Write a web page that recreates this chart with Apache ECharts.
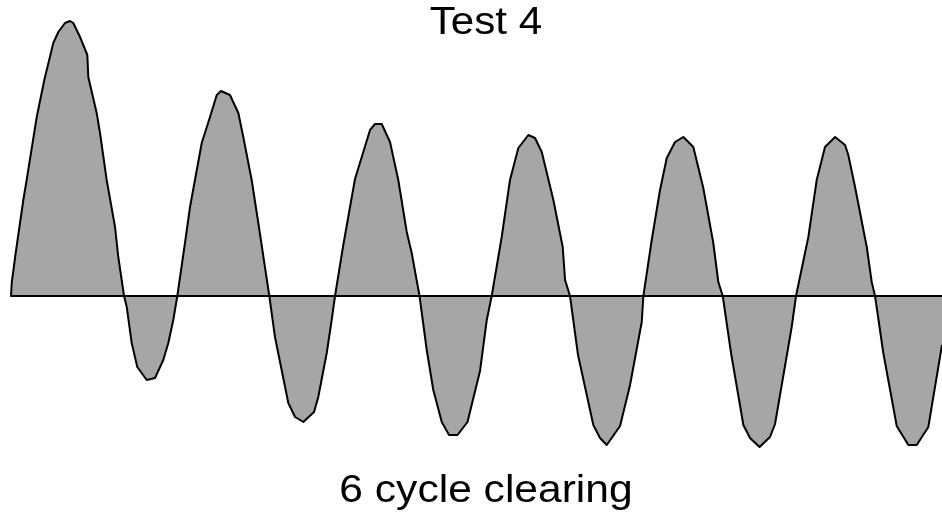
<!DOCTYPE html>
<html>
<head>
<meta charset="utf-8">
<style>
  html, body { margin: 0; padding: 0; background: #ffffff; }
  #chart { width: 942px; height: 517px; }
</style>
<script src="https://cdn.jsdelivr.net/npm/echarts@6/dist/echarts.min.js"></script>
</head>
<body>
<div id="chart"></div>
<script>
// Fault current trace: time (ms) and current (kA) samples
const timeMs = [
  0.00, 0.08, 0.52, 1.37, 1.74, 2.86, 3.70, 4.70, 5.26, 6.00, 6.56, 6.92, 7.67, 8.48, 8.59, 9.52, 9.89,
  10.63, 11.56, 11.92, 12.56, 12.86, 13.41, 14.03, 15.08, 16.00, 16.92, 17.48, 18.03, 18.48,
  19.33, 19.89, 20.44, 21.19, 22.11, 22.86, 23.33, 24.33, 25.26, 25.81, 26.74, 27.48, 28.70,
  29.33, 30.81, 31.56, 32.48, 33.67, 34.14, 35.08, 35.63, 36.00,
  36.92, 38.22, 38.97, 39.89, 40.44, 41.19, 42.11, 43.03, 43.97, 44.52, 45.39,
  46.19, 46.92, 47.86, 48.67, 49.61, 50.72, 52.11, 52.86, 53.41,
  54.52, 55.44, 56.37, 57.48, 58.22, 58.97, 60.26, 61.30, 61.56, 62.11,
  63.00, 64.70, 65.44, 66.19, 67.67, 68.78, 70.08, 70.26,
  71.19, 72.11, 72.86, 73.78, 74.70, 75.81, 76.92, 78.03, 78.59, 79.08,
  80.00, 81.37, 82.11, 83.17, 84.33, 84.89, 86.74, 87.22,
  88.59, 89.52, 90.44, 91.56, 92.67, 93.03, 93.78, 95.08, 95.63, 96.00,
  96.92, 98.41, 99.70, 100.63, 101.92, 103.44
];
const currentKA = [
  0.0, 1.3, 4.3, 9.6, 11.6, 17.9, 21.6, 25.3, 26.4, 27.3, 27.5, 27.3, 25.9, 24.1, 21.9, 18.3, 16.3,
  11.6, 6.9, 3.9, 0.0, -1.1, -4.7, -7.1, -8.4, -8.2, -6.4, -4.7, -2.4, 0.0,
  5.3, 8.9, 11.6, 15.3, 17.9, 20.1, 20.5, 20.1, 18.3, 15.9, 11.6, 7.3, 0.0,
  -4.1, -10.7, -12.1, -12.6, -11.6, -10.1, -5.7, -2.4, 0.0,
  5.1, 11.7, 13.9, 16.6, 17.2, 17.2, 15.4, 11.6, 6.4, 4.3, 0.0,
  -5.4, -9.4, -12.6, -13.9, -13.9, -12.6, -7.5, -2.4, 0.0,
  5.9, 11.6, 14.8, 16.1, 15.8, 14.4, 9.6, 4.9, 1.6, 0.0,
  -5.9, -12.9, -14.2, -14.9, -13.0, -8.9, -2.6, 0.0,
  5.6, 10.6, 13.8, 15.4, 15.9, 14.9, 10.8, 5.3, 1.4, 0.0,
  -5.7, -12.9, -14.2, -15.1, -14.1, -12.8, -3.1, 0.0,
  5.9, 11.6, 14.9, 15.9, 15.1, 14.1, 10.9, 4.9, 1.4, 0.0,
  -5.7, -13.0, -14.9, -14.9, -13.1, -4.9
];
const titleText = 'Test 4';
const footerText = '6 cycle clearing';

const seriesData = timeMs.map((t, i) => [t, currentKA[i]]);

const chart = echarts.init(document.getElementById('chart'), null, { renderer: 'canvas' });
chart.setOption({
  animation: false,
  backgroundColor: '#ffffff',
  grid: { left: 11, right: 0, top: 0, bottom: 0, containLabel: false },
  xAxis: {
    type: 'value',
    min: 0,
    max: 103.44,
    z: 5,
    axisLine: { show: true, onZero: true, lineStyle: { color: '#000000', width: 2 } },
    axisTick: { show: false },
    axisLabel: { show: false },
    splitLine: { show: false }
  },
  yAxis: {
    type: 'value',
    min: -22.1,
    max: 29.6,
    axisLine: { show: false },
    axisTick: { show: false },
    axisLabel: { show: false },
    splitLine: { show: false }
  },
  series: [{
    type: 'line',
    data: seriesData,
    symbol: 'none',
    smooth: false,
    z: 1,
    lineStyle: { color: '#000000', width: 2, join: 'round' },
    areaStyle: { color: '#a6a6a6', opacity: 1, origin: 0 }
  }],
  graphic: [
    {
      type: 'text', x: 486, y: 23.5, z: 10, scaleX: 1.11,
      style: { text: titleText, font: '38px "Liberation Sans", Arial, sans-serif', fill: '#000000', align: 'center', verticalAlign: 'middle' }
    },
    {
      type: 'text', x: 486, y: 492, z: 10, scaleX: 1.12,
      style: { text: footerText, font: '38px "Liberation Sans", Arial, sans-serif', fill: '#000000', align: 'center', verticalAlign: 'middle' }
    }
  ]
});
</script>
</body>
</html>
